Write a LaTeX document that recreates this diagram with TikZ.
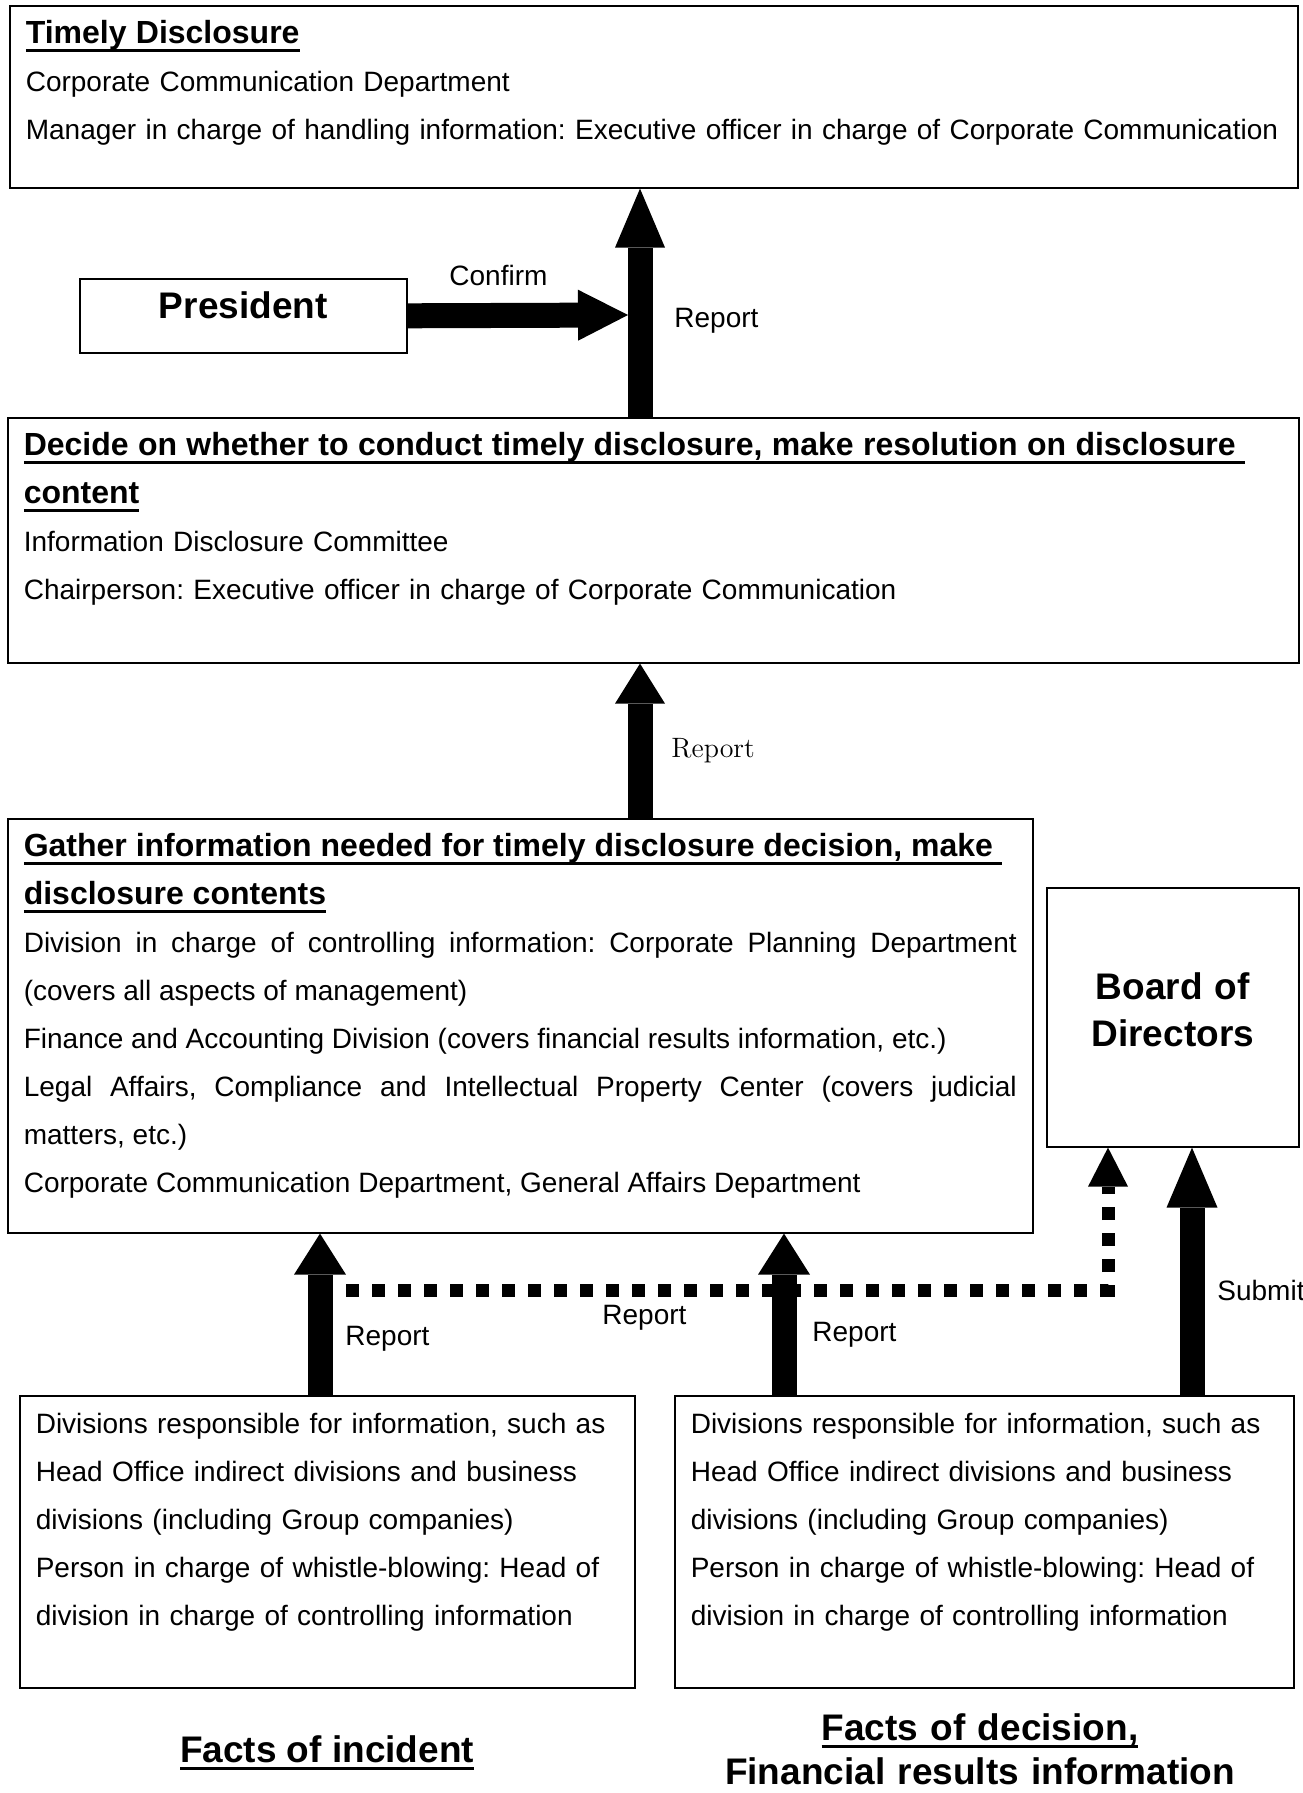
\documentclass[tikz,border=0pt]{standalone}
\usepackage{fontspec}
\setsansfont{Liberation Sans}
\usetikzlibrary{arrows.meta}
\frenchspacing
\hyphenpenalty=10000
\newsavebox{\ulbox}
\newcommand{\uln}[1]{\leavevmode\sbox{\ulbox}{#1}\rlap{\vrule height -2.5pt depth 4pt width \wd\ulbox}\usebox{\ulbox}}
\newcommand{\bodyfont}{\sffamily\fontsize{14}{24}\selectfont}
\newcommand{\headfont}{\fontsize{16}{24}\selectfont\bfseries}
\newcommand{\bigfont}{\sffamily\bfseries\fontsize{18.5}{23.5}\selectfont}

\begin{document}
\begin{tikzpicture}[x=0.5pt,y=-0.5pt,
    box/.style={draw,line width=0.8pt,anchor=north west,inner xsep=8pt,inner ysep=0pt,
      text height=19pt,align=left,font=\bodyfont},
    lbl/.style={font=\bodyfont,inner sep=0pt,anchor=base west},
    big/.style={font=\bigfont,inner sep=0pt},
    fat/.style={line width=12.5pt},
    dots/.style={line width=6.5pt,dash pattern=on 6.5pt off 6.5pt}]
    \useasboundingbox (0,0) rectangle (1302,1793);
    % boxes
    \node[box,text width=628pt,text depth=72pt] (timely) at (9,5)
      {{\headfont\uln{Timely Disclosure}}\\
       Corporate Communication Department\\
       Manager in charge of handling information: Executive officer in charge of Corporate Communication};
    \node[draw,line width=0.8pt,anchor=north west,inner sep=0pt,minimum width=163.5pt,
      text height=20pt,text depth=17pt,font=\bigfont] (president) at (79,278) {President};
    \node[box,text width=629.5pt,text depth=103.5pt] (decide) at (7,417)
      {{\headfont\uln{Decide on whether to conduct timely disclosure, make resolution on disclosure\ }\\
       \uln{content}}\\
       Information Disclosure Committee\\
       Chairperson: Executive officer in charge of Corporate Communication};
    \node[box,text width=496.5pt,text depth=188pt,align=justify] (gather) at (7,818)
      {{\headfont\uln{Gather information needed for timely disclosure decision, make\ }\\
       \uln{disclosure contents}}\\
       Division in charge of controlling information: Corporate Planning Department\linebreak
       (covers all aspects of management)\\
       Finance and Accounting Division (covers financial results information, etc.)\\
       Legal Affairs, Compliance and Intellectual Property Center (covers judicial\linebreak
       matters, etc.)\\
       Corporate Communication Department, General Affairs Department};
    \node[box,inner xsep=0pt,text width=126pt,align=center,font=\bigfont,
      text height=56pt,text depth=73.5pt] (board) at (1046,887) {Board of\\Directors};
    \node[box,text width=291.5pt,text depth=127pt] (botleft) at (19,1395)
      {Divisions responsible for information, such as\\
       Head Office indirect divisions and business\\
       divisions (including Group companies)\\
       Person in charge of whistle-blowing: Head of\\
       division in charge of controlling information};
    \node[box,text width=293.5pt,text depth=127pt] (botright) at (674,1395)
      {Divisions responsible for information, such as\\
       Head Office indirect divisions and business\\
       divisions (including Group companies)\\
       Person in charge of whistle-blowing: Head of\\
       division in charge of controlling information};
    \node[big,anchor=base] (incident) at (327,1762) {\uln{Facts of incident}};
    \node[big,anchor=base,text width=300pt,align=center,
      font=\sffamily\bfseries\fontsize{18.5}{22}\selectfont] (decision) at (980,1740)
      {\uln{Facts of decision,}\\Financial results information};

    % where the arrows run
    \coordinate (ax) at (640,0);
    \coordinate (lx) at (320,0);
    \coordinate (mx) at (784,0);
    \coordinate (sx) at (1192,0);
    \coordinate (dx) at (1108,0);
    \coordinate (meet) at (628,315);
    \coordinate (dl) at (320,1290);

    % arrows
    \draw[dots,-{Triangle[length=19.5pt,width=20pt,line width=0pt]}] (dl) -| (board.south -| dx);
    \draw[fat,-{Triangle[length=29.5pt,width=25pt,line width=0pt]}] (decide.north -| ax) -- (timely.south -| ax);
    \draw[fat,-{Triangle[length=25pt,width=25.5pt,line width=0pt]}] (president.east) -- (meet);
    \draw[fat,-{Triangle[length=20pt,width=25pt,line width=0pt]}] (gather.north -| ax) -- (decide.south -| ax);
    \draw[fat,-{Triangle[length=20.5pt,width=26pt,line width=0pt]}] (botleft.north -| lx) -- (gather.south -| lx);
    \draw[fat,-{Triangle[length=20.5pt,width=26pt,line width=0pt]}] (botright.north -| mx) -- (gather.south -| mx);
    \draw[fat,-{Triangle[length=30pt,width=25.5pt,line width=0pt]}] (botright.north -| sx) -- (board.south -| sx);

    % labels
    \node[lbl] (confirm) at (449,285) {Confirm};
    \node[lbl] (rep1) at (674,327) {Report};
    \node[lbl,font=\rmfamily\fontsize{14}{17}\selectfont] (rep2) at (671,757) {Report};
    \node[lbl] (rep3) at (345,1345) {Report};
    \node[lbl] (rep4) at (602,1324) {Report};
    \node[lbl] (rep5) at (812,1341) {Report};
    \node[lbl] (submit) at (1217,1300) {Submit};
\end{tikzpicture}
\end{document}
